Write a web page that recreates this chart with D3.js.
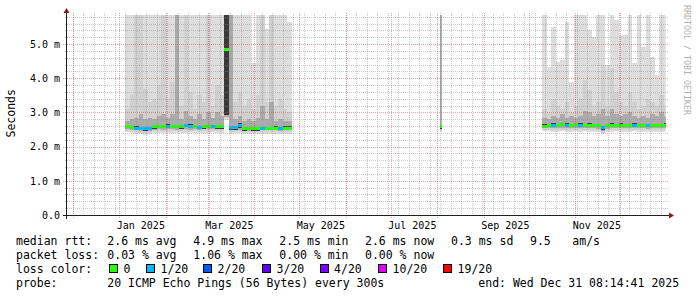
<!DOCTYPE html>
<html>
<head>
<meta charset="utf-8">
<script src="https://cdn.jsdelivr.net/npm/d3@7"></script>
<style>
  body { margin: 0; background: #fff; }
  svg text { font-family: "DejaVu Sans Mono", monospace; fill: #000; }
</style>
</head>
<body>
<svg id="chart" width="697" height="297"></svg>
<script>
// ---- data (ms); bins of `step` days from `start`
const seg1Start = "2025-01-05", seg1Step = 3;
const seg1Med  = [2.59,2.56,2.54,2.53,2.52,2.53,2.58,2.59,2.59,2.60,2.59,2.59,2.58,2.61,2.60,2.59,2.56,2.58,2.59,2.59,2.58,2.58,4.85,2.55,2.55,2.63,2.52,2.53,2.52,2.52,2.53,2.53,2.53,2.54,2.53,2.54,2.54];
const seg1Loss = [0,0,1,1,1,1,0,0,0,1,0,0,0,1,1,0,1,0,0,1,0,0,0,1,1,1,0,0,0,0,1,0,0,0,1,0,0];
const seg1Lo   = [2.42,2.40,2.38,2.36,2.35,2.36,2.40,2.41,2.40,2.41,2.41,2.40,2.41,2.41,2.40,2.41,2.40,2.41,2.41,2.42,2.41,2.41,2.78,2.38,2.39,2.40,2.37,2.37,2.37,2.38,2.38,2.38,2.38,2.38,2.37,2.38,2.38];
const seg1Core = [2.64,2.61,2.59,2.58,2.57,2.58,2.63,2.64,2.64,2.65,2.64,2.64,2.63,2.66,2.65,2.64,2.61,2.63,2.64,2.64,2.63,2.63,5.90,2.60,2.60,2.70,2.57,2.58,2.57,2.57,2.58,2.58,2.58,2.59,2.58,2.59,2.59];
const seg1P75  = [2.75,2.80,2.85,2.95,2.80,2.85,2.80,2.90,2.95,2.85,2.95,5.90,2.80,3.05,2.90,2.80,2.95,2.80,3.00,2.85,3.00,2.90,5.90,5.90,2.80,2.90,2.75,2.80,2.75,2.85,3.20,2.80,3.30,2.75,2.80,2.75,2.75];
const seg1P90  = [3.10,3.50,5.90,5.90,3.70,3.30,3.40,3.80,5.90,3.40,3.90,5.90,3.20,5.90,3.60,3.10,3.50,3.30,5.90,3.20,3.80,3.50,5.90,5.90,3.30,3.60,3.20,3.40,3.10,3.50,5.90,3.30,5.90,3.20,3.40,3.10,3.00];
const seg1Hi   = [5.90,5.90,5.90,5.90,5.90,5.90,5.90,5.90,5.90,5.90,5.90,5.90,5.90,5.90,5.90,5.90,5.90,5.90,5.90,5.90,5.90,5.90,5.90,5.90,5.90,5.90,5.90,5.90,4.45,5.90,5.90,5.45,5.90,5.90,5.90,5.90,5.65];

const seg2Start = "2025-08-03", seg2Step = 1;
const seg2Med  = [2.58];
const seg2Loss = [0];
const seg2Lo   = [2.44];
const seg2Core = [2.62];
const seg2P75  = [5.90];
const seg2P90  = [5.90];
const seg2Hi   = [5.90];

const seg3Start = "2025-10-10", seg3Step = 3;
const seg3Med  = [2.60,2.62,2.63,2.62,2.64,2.63,2.62,2.64,2.63,2.62,2.63,2.62,2.61,2.55,2.62,2.63,2.62,2.63,2.61,2.62,2.63,2.62,2.61,2.61,2.62,2.61,2.62,2.63];
const seg3Loss = [0,0,1,0,0,1,0,0,1,0,0,0,0,1,0,0,0,0,0,0,1,0,0,1,0,0,0,0];
const seg3Lo   = [2.45,2.45,2.44,2.44,2.45,2.44,2.44,2.45,2.44,2.45,2.44,2.44,2.43,2.36,2.43,2.44,2.45,2.44,2.44,2.44,2.45,2.44,2.44,2.43,2.44,2.44,2.44,2.44];
const seg3Core = [2.65,2.67,2.68,2.67,2.69,2.68,2.67,2.69,2.68,2.67,2.68,2.67,2.66,2.60,2.67,2.68,2.67,2.68,2.66,2.67,2.68,2.67,2.66,2.66,2.67,2.66,2.67,2.68];
const seg3P75  = [2.85,2.80,2.90,2.85,2.95,2.85,2.90,2.85,2.90,3.05,3.00,2.90,2.95,3.10,2.90,3.10,2.95,2.90,2.95,3.00,2.90,2.85,2.90,2.85,2.95,2.90,3.00,2.90];
const seg3P90  = [3.10,3.00,3.40,3.20,3.10,3.30,3.00,3.20,3.40,3.95,3.65,3.20,3.30,4.40,3.20,4.30,3.60,3.30,3.20,3.60,3.30,3.10,3.20,3.40,3.30,3.20,3.50,3.20];
const seg3Hi   = [5.90,4.34,5.50,4.48,4.53,5.65,3.90,5.90,5.90,5.90,5.40,5.20,5.90,5.90,4.40,5.90,5.70,5.26,5.26,5.90,4.44,5.90,4.92,5.90,4.63,4.10,5.90,5.90];

const yTicks = [0, 1, 2, 3, 4, 5];
const yTickLabels = ["0.0", "1.0 m", "2.0 m", "3.0 m", "4.0 m", "5.0 m"];
const xLabels = ["Jan 2025", "Mar 2025", "May 2025", "Jul 2025", "Sep 2025", "Nov 2025"];
const xLabelMonths = ["2025-01-01", "2025-03-01", "2025-05-01", "2025-07-01", "2025-09-01", "2025-11-01"];

const lossNames  = ["0", "1/20", "2/20", "3/20", "4/20", "10/20", "19/20"];
const lossCounts = [0, 1, 2, 3, 4, 10, 19];
const lossColors = ["#26ff00", "#00b8ff", "#0059ff", "#5e00ff", "#7e00ff", "#dd00ff", "#ff0000"];

const rttStats  = ["2.6 ms avg", "4.9 ms max", "2.5 ms min", "2.6 ms now", "0.3 ms sd", "9.5", "am/s"];
const lossStats = ["0.03 % avg", "1.06 % max", "0.00 % min", "0.00 % now"];
const probeText = "20 ICMP Echo Pings (56 Bytes) every 300s";
const endText   = "end: Wed Dec 31 08:14:41 2025";

// ---- setup
const svg = d3.select("#chart");
const DAY = 864e5;
const tEnd = new Date(Date.UTC(2025, 11, 31, 8, 14, 41));
const tStart = new Date(tEnd.getTime() - 400 * DAY);

const x = d3.scaleUtc().domain([tStart, tEnd]).range([65.6, 665.6]);
const y = d3.scaleLinear().domain([0, 5.85]).range([215, 15]);
const px = v => Math.round(v) + 0.5;

function bins(start, step, med, loss, lo, core, p75, p90, hi) {
  const t0 = new Date(start + "T00:00:00Z").getTime();
  return med.map((m, i) => ({
    t0: new Date(t0 + i * step * DAY),
    t1: new Date(t0 + (i + 1) * step * DAY),
    med: m, loss: loss[i], lo: lo[i], core: core[i], p75: p75[i], p90: p90[i], hi: hi[i]
  }));
}
const data = [].concat(
  bins(seg1Start, seg1Step, seg1Med, seg1Loss, seg1Lo, seg1Core, seg1P75, seg1P90, seg1Hi),
  bins(seg2Start, seg2Step, seg2Med, seg2Loss, seg2Lo, seg2Core, seg2P75, seg2P90, seg2Hi),
  bins(seg3Start, seg3Step, seg3Med, seg3Loss, seg3Lo, seg3Core, seg3P75, seg3P90, seg3Hi)
);

svg.append("defs").append("clipPath").attr("id", "plot")
  .append("rect").attr("x", 67).attr("y", 15).attr("width", 598.6).attr("height", 200);

// ---- smoke: light to dark
const layers = [
  { lo: d => d.lo,        hi: d => d.hi,   color: "#dddddd" },
  { lo: d => d.lo + 0.05, hi: d => d.p90,  color: "#d0d0d0" },
  { lo: d => d.lo + 0.1,  hi: d => d.p75,  color: "#ababab" },
  { lo: d => Math.min(d.med - 0.05, d.lo + 0.15), hi: d => d.core, color: "#3a3a3a" }
];
const plot = svg.append("g").attr("clip-path", "url(#plot)");
layers.forEach(l => {
  plot.append("g").selectAll("rect").data(data).join("rect")
    .attr("x", d => x(d.t0))
    .attr("width", d => x(d.t1) - x(d.t0))
    .attr("y", d => y(Math.min(l.hi(d), 5.85)))
    .attr("height", d => Math.max(0, y(l.lo(d)) - y(Math.min(l.hi(d), 5.85))))
    .attr("fill", l.color)
    .attr("shape-rendering", "crispEdges");
});

// median, coloured by loss
plot.append("g").selectAll("rect").data(data).join("rect")
  .attr("x", d => x(d.t0))
  .attr("width", d => x(d.t1) - x(d.t0))
  .attr("y", d => y(d.med) - 1.5)
  .attr("height", 3)
  .attr("fill", d => lossColors[lossCounts.indexOf(d.loss)])
  .attr("shape-rendering", "crispEdges");

// ---- grid (drawn over the data, like rrdtool)
const grid = svg.append("g").attr("shape-rendering", "crispEdges")
  .attr("stroke-dasharray", "1,1").attr("stroke-width", 1);
const minorY = d3.range(0.2, 5.85, 0.2).filter(v => Math.abs(v - Math.round(v)) > 0.01);
grid.selectAll(".hmin").data(minorY).join("line")
  .attr("x1", 65).attr("x2", 668)
  .attr("y1", d => px(y(d))).attr("y2", d => px(y(d)))
  .attr("stroke", "rgba(140,140,140,0.45)");
const weeks = d3.utcSunday.range(tStart, tEnd);
grid.selectAll(".vmin").data(weeks).join("line")
  .attr("x1", d => px(x(d))).attr("x2", d => px(x(d)))
  .attr("y1", 13).attr("y2", 217)
  .attr("stroke", "rgba(140,140,140,0.45)");
grid.selectAll(".hmaj").data(yTicks.slice(1)).join("line")
  .attr("x1", 63).attr("x2", 668)
  .attr("y1", d => px(y(d))).attr("y2", d => px(y(d)))
  .attr("stroke", "rgba(215,70,70,0.5)");
const months = d3.utcMonth.range(tStart, tEnd);
grid.selectAll(".vmaj").data(months).join("line")
  .attr("x1", d => px(x(d))).attr("x2", d => px(x(d)))
  .attr("y1", 13).attr("y2", 218)
  .attr("stroke", "rgba(215,70,70,0.5)");

// ---- axes
const axis = svg.append("g").attr("shape-rendering", "crispEdges");
axis.append("line").attr("x1", 63).attr("x2", 670).attr("y1", 215.5).attr("y2", 215.5)
  .attr("stroke", "#1f1f1f");
axis.append("line").attr("x1", 66.5).attr("x2", 66.5).attr("y1", 12).attr("y2", 219)
  .attr("stroke", "#1f1f1f");
svg.append("path").attr("d", "M674,215.5 L669,212.5 L669,218.5 Z").attr("fill", "#801f1f");
svg.append("path").attr("d", "M66.5,8 L63.5,13 L69.5,13 Z").attr("fill", "#801f1f");

// y tick labels
svg.append("g").selectAll("text").data(yTicks).join("text")
  .attr("x", 60).attr("y", d => y(d) + 3.7)
  .attr("text-anchor", "end").attr("font-size", "10px")
  .text((d, i) => yTickLabels[i]);

// x labels, centred mid-month
svg.append("g").selectAll("text").data(xLabelMonths).join("text")
  .attr("x", d => x(new Date(new Date(d + "T00:00:00Z").getTime() + 14.5 * DAY)))
  .attr("y", 228.5)
  .attr("text-anchor", "middle").attr("font-size", "10px")
  .text((d, i) => xLabels[i]);

svg.append("text").attr("transform", "translate(14.5,113.3) rotate(-90)")
  .attr("text-anchor", "middle").attr("font-size", "11.5px").text("Seconds");

svg.append("text").attr("transform", "translate(684,5) rotate(90)")
  .attr("font-size", "8.3px").style("fill", "#b0b0b0").text("RRDTOOL / TOBI OETIKER");

// ---- legend
const cols = [16, 107.3, 193.3, 279.3, 365, 451, 530, 572.3];
const lg = svg.append("g").attr("font-size", "11.5px");
lg.append("text").attr("x", cols[0]).attr("y", 245).text("median rtt:");
rttStats.forEach((s, i) => lg.append("text").attr("x", cols[i + 1]).attr("y", 245).text(s));
lg.append("text").attr("x", cols[0]).attr("y", 259).text("packet loss:");
lossStats.forEach((s, i) => lg.append("text").attr("x", cols[i + 1]).attr("y", 259).text(s));
lg.append("text").attr("x", cols[0]).attr("y", 273).text("loss color:");
const swatchX = [109, 146, 203, 262, 319.5, 378, 443];
lossNames.forEach((s, i) => {
  lg.append("rect").attr("x", swatchX[i] + 0.5).attr("y", 264.5).attr("width", 8).attr("height", 8)
    .attr("fill", lossColors[i]).attr("stroke", "#000").attr("shape-rendering", "crispEdges");
  lg.append("text").attr("x", swatchX[i] + 14.6).attr("y", 273).text(s);
});
lg.append("text").attr("x", cols[0]).attr("y", 287).text("probe:");
lg.append("text").attr("x", cols[1]).attr("y", 287).text(probeText);
lg.append("text").attr("x", 478.3).attr("y", 287).text(endText);
</script>
</body>
</html>
